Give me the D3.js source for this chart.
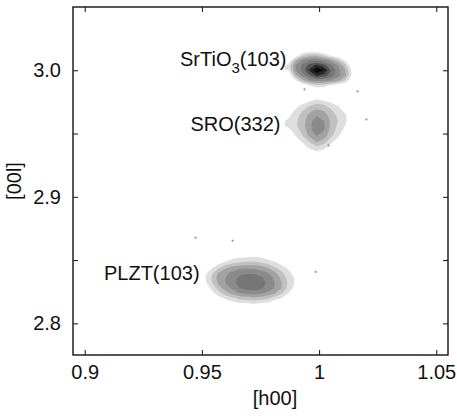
<!DOCTYPE html>
<html>
<head>
<meta charset="utf-8">
<script src="https://cdn.jsdelivr.net/npm/d3@7"></script>
<style>
body { margin: 0; background: #fff; }
text { font-family: "Liberation Sans", Arial, sans-serif; fill: #111; }
</style>
</head>
<body>
<div id="rsm"></div>
<script>
// axis data
const x_ticks = [0.9, 0.95, 1, 1.05]
const x_tick_labels = ["0.9", "0.95", "1", "1.05"]
const y_ticks = [2.8, 2.85, 2.9, 2.95, 3.0]
const y_tick_labels = ["2.8", "", "2.9", "", "3.0"]
const x_domain = [0.895, 1.055]
const y_domain = [2.775, 3.05]

// peak intensity grids: start = [h, l] of first cell, rows go down in l
const grid_step = [0.003, 0.004]

const sto_start = [0.987, 3.016]
const sto_grid = [
    [0, 0, 0, 0, 0, 0, 0, 0, 0, 0],
    [0, 0, 0.8, 1.2, 1.2, 0.8, 0.3, 0, 0, 0],
    [0, 1.4, 2.1, 2.4, 2.4, 2.2, 1.8, 1.2, 0.4, 0],
    [0.7, 2.0, 2.6, 3.2, 3.6, 3.2, 2.6, 2.0, 1.2, 0],
    [0.5, 2.0, 2.7, 3.6, 4.5, 4.0, 3.0, 2.2, 1.6, 0.4],
    [0, 1.4, 2.3, 3.0, 3.6, 3.3, 2.8, 2.2, 1.7, 0.4],
    [0, 0.4, 1.4, 2.0, 2.2, 2.2, 2.0, 1.7, 1.0, 0],
    [0, 0, 0, 0.5, 0.8, 0.7, 0.4, 0, 0, 0],
    [0, 0, 0, 0, 0, 0, 0, 0, 0, 0]
]

const sro_start = [0.987, 2.980]
const sro_grid = [
    [0, 0, 0, 0, 0, 0, 0, 0, 0, 0],
    [0, 0, 0, 0.4, 0.7, 0.5, 0.3, 0, 0, 0],
    [0, 0.3, 0.7, 1.0, 1.2, 1.1, 0.8, 0.5, 0.2, 0],
    [0.2, 0.6, 1.0, 1.4, 1.6, 1.5, 1.1, 0.7, 0.4, 0],
    [0.4, 0.8, 1.2, 1.7, 2.0, 1.8, 1.3, 0.9, 0.6, 0.2],
    [0.6, 0.9, 1.3, 1.8, 2.3, 2.0, 1.4, 1.0, 0.6, 0.2],
    [0.6, 0.9, 1.3, 1.9, 2.4, 2.1, 1.4, 0.9, 0.5, 0],
    [0.3, 0.7, 1.2, 1.8, 2.3, 2.0, 1.3, 0.8, 0.3, 0],
    [0, 0.5, 1.0, 1.6, 2.0, 1.8, 1.1, 0.6, 0, 0],
    [0, 0.2, 0.6, 1.1, 1.6, 1.3, 0.7, 0.2, 0, 0],
    [0, 0, 0.3, 0.7, 1.0, 0.8, 0.3, 0, 0, 0],
    [0, 0, 0, 0.3, 0.5, 0.3, 0, 0, 0, 0],
    [0, 0, 0, 0, 0, 0, 0, 0, 0, 0]
]

const plzt_start = [0.951, 2.856]
const plzt_grid = [
    [0, 0, 0, 0, 0, 0, 0, 0, 0, 0, 0, 0, 0, 0, 0],
    [0, 0, 0, 0, 0.3, 0.5, 0.5, 0.6, 0.5, 0.3, 0, 0, 0, 0, 0],
    [0, 0, 0.3, 0.6, 0.9, 1.0, 1.1, 1.1, 1.0, 0.8, 0.6, 0.3, 0, 0, 0],
    [0, 0.4, 0.9, 1.4, 1.7, 1.9, 1.9, 1.9, 1.8, 1.5, 1.1, 0.7, 0.4, 0, 0],
    [0.3, 0.8, 1.5, 1.9, 2.1, 2.3, 2.4, 2.4, 2.2, 2.0, 1.6, 1.1, 0.6, 0.3, 0],
    [0.4, 1.0, 1.7, 2.0, 2.3, 2.6, 2.8, 2.8, 2.6, 2.3, 1.9, 1.4, 0.8, 0.4, 0],
    [0.3, 0.9, 1.6, 2.0, 2.3, 2.7, 2.9, 2.9, 2.8, 2.4, 2.0, 1.5, 0.9, 0.4, 0],
    [0, 0.6, 1.2, 1.8, 2.1, 2.5, 2.7, 2.8, 2.6, 2.3, 2.0, 1.5, 0.8, 0.3, 0],
    [0, 0.3, 0.8, 1.3, 1.7, 2.0, 2.1, 2.2, 2.1, 1.9, 1.6, 1.1, 0.5, 0, 0],
    [0, 0, 0.3, 0.6, 0.9, 1.2, 1.3, 1.4, 1.3, 1.1, 0.8, 0.5, 0, 0, 0],
    [0, 0, 0, 0, 0.3, 0.5, 0.5, 0.6, 0.5, 0.4, 0, 0, 0, 0, 0],
    [0, 0, 0, 0, 0, 0, 0, 0, 0, 0, 0, 0, 0, 0, 0]
]

// single counts lying away from the peaks, [h, l]
const stray_points = [
    [1.0202, 2.9612], [1.0164, 2.9834], [0.9938, 2.9849], [0.9985, 2.8407],
    [0.9473, 2.8677], [0.9631, 2.8653], [1.0040, 2.9406]
]

// peak labels: pieces (middle piece of SrTiO3 is a subscript) and anchor [h, l]
const label_parts = [["SrTiO", "3", "(103)"], ["SRO(332)"], ["PLZT(103)"]]
const label_anchor = [[0.9861, 3.0032], [0.9835, 2.9517], [0.9490, 2.8343]]

// layout consts
const width = 457
const height = 416
const plot_left = 73, plot_right = 448, plot_top = 7, plot_bottom = 355
const tick_len = 5
const font_size = 20

const x = d3.scaleLinear().domain(x_domain).range([plot_left, plot_right])
const y = d3.scaleLinear().domain(y_domain).range([plot_bottom, plot_top])

// gray level for each contour threshold
const levels = [0.5, 1, 1.5, 2, 2.5, 3, 3.5, 4]
const gray = d3.scaleOrdinal().domain(levels)
    .range(["#dedede", "#c0c0c0", "#a2a2a2", "#8a8a8a", "#767676", "#525252", "#262626", "#0a0a0a"])

function setup_svg(){
    var svg = d3.select("#rsm").append("svg")
        .attr("width", width)
        .attr("height", height)
    return svg
}

function draw_peak(svg, start, grid){
    var rows = grid.length
    var cols = grid[0].length
    var contours = d3.contours().size([cols, rows]).thresholds(levels)(grid.flat())
    var to_screen = d3.geoTransform({
        point: function(gx, gy){
            this.stream.point(
                x(start[0] + (gx - 0.5) * grid_step[0]),
                y(start[1] - (gy - 0.5) * grid_step[1]))
        }
    })
    svg.append("g").selectAll("path")
        .data(contours)
        .join("path")
        .attr("d", d3.geoPath(to_screen))
        .attr("fill", d => gray(d.value))
}

function draw_strays(svg){
    svg.append("g").selectAll("rect")
        .data(stray_points)
        .join("rect")
        .attr("x", d => x(d[0]) - 1)
        .attr("y", d => y(d[1]) - 1)
        .attr("width", 2)
        .attr("height", 2)
        .attr("fill", "#9a9a9a")
}

function draw_labels(svg){
    var t = svg.append("g").selectAll("text")
        .data(label_parts)
        .join("text")
        .attr("x", (d, i) => x(label_anchor[i][0]))
        .attr("y", (d, i) => y(label_anchor[i][1]))
        .attr("text-anchor", "end")
        .attr("font-size", font_size)
    t.each(function(parts){
        var el = d3.select(this)
        if (parts.length == 1){
            el.text(parts[0])
            return
        }
        el.append("tspan").text(parts[0])
        el.append("tspan").attr("dy", 7).attr("font-size", 15).text(parts[1])
        el.append("tspan").attr("dy", -7).text(parts[2])
    })
}

function draw_axes(svg){
    var g = svg.append("g")
    var bottom_axis = d3.axisBottom(x).tickValues(x_ticks)
        .tickSize(-tick_len).tickPadding(10)
        .tickFormat((d, i) => x_tick_labels[i])
    var top_axis = d3.axisTop(x).tickValues(x_ticks)
        .tickSize(-tick_len).tickFormat("")
    var left_axis = d3.axisLeft(y).tickValues(y_ticks)
        .tickSize(-tick_len).tickPadding(12)
        .tickFormat((d, i) => y_tick_labels[i])
    var right_axis = d3.axisRight(y).tickValues(y_ticks)
        .tickSize(-tick_len).tickFormat("")

    g.append("g").attr("transform", "translate(0," + plot_bottom + ")").call(bottom_axis)
    g.append("g").attr("transform", "translate(0," + plot_top + ")").call(top_axis)
    g.append("g").attr("transform", "translate(" + plot_left + ",0)").call(left_axis)
    g.append("g").attr("transform", "translate(" + plot_right + ",0)").call(right_axis)

    g.selectAll(".domain").remove()
    g.selectAll(".tick line").attr("stroke", "#111").attr("stroke-width", 1)
    g.selectAll(".tick text")
        .attr("font-size", font_size)
        .attr("font-family", "Liberation Sans, Arial, sans-serif")
        .attr("fill", "#111")

    g.append("rect")
        .attr("x", plot_left).attr("y", plot_top)
        .attr("width", plot_right - plot_left).attr("height", plot_bottom - plot_top)
        .attr("fill", "none")
        .attr("stroke", "#111")
        .attr("stroke-width", 1.4)

    svg.append("text")
        .attr("x", 275)
        .attr("y", 405)
        .attr("text-anchor", "middle")
        .attr("font-size", font_size)
        .text("[h00]")
    svg.append("text")
        .attr("transform", "translate(21," + ((plot_top + plot_bottom) / 2) + ") rotate(-90)")
        .attr("text-anchor", "middle")
        .attr("font-size", font_size)
        .text("[00l]")
}

var svg = setup_svg()
draw_peak(svg, plzt_start, plzt_grid)
draw_peak(svg, sro_start, sro_grid)
draw_peak(svg, sto_start, sto_grid)
draw_strays(svg)
draw_labels(svg)
draw_axes(svg)
</script>
</body>
</html>
